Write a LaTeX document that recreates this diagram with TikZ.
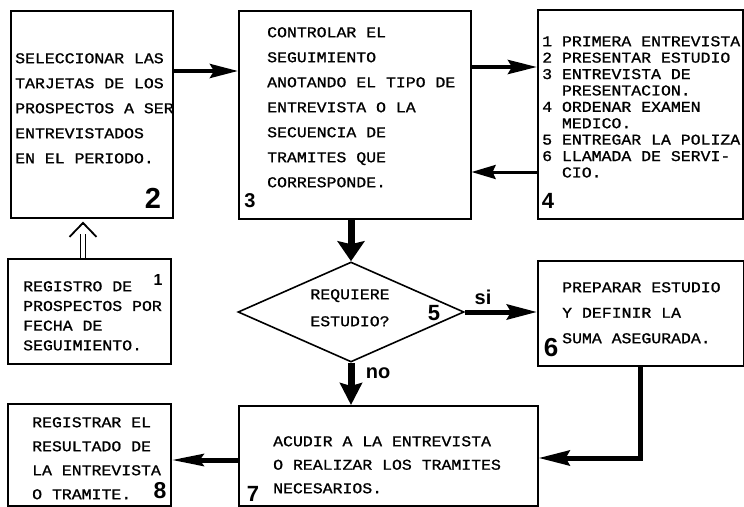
\documentclass[tikz,border=0pt]{standalone}
\usepackage{fontspec}
\usetikzlibrary{arrows.meta,shapes.geometric}
\newfontfamily\tw[FakeStretch=1.1,FakeBold=1]{Liberation Mono}
\newfontfamily\numfont{Liberation Sans}

\tikzset{
  box/.style={draw, line width=1.6pt, rectangle, inner sep=0pt, anchor=north west},
  txt/.style={font=\tw\fontsize{15}{#1}\selectfont, align=left, anchor=north west, inner sep=0pt},
  num/.style={font=\numfont\bfseries\fontsize{#1}{#1}\selectfont, inner sep=0pt, anchor=base},
  flowarrow/.style={line width=#1, line cap=butt},
}

\begin{document}
\begin{tikzpicture}[x=1pt,y=-1pt]
\useasboundingbox (0,0) rectangle (744,506);

% boxes
\node[box, minimum width=162pt, minimum height=207pt] (b2) at (10,10) {};
\node[box, minimum width=232pt, minimum height=208pt] (b3) at (238,10) {};
\node[box, minimum width=205pt, minimum height=209pt] (b4) at (537,9) {};
\node[box, minimum width=163pt, minimum height=105pt] (b1) at (7,258) {};
\node[diamond, draw, line width=1.6pt, minimum width=226pt, minimum height=100pt, inner sep=0pt] (d5) at (351,312) {};
\node[box, minimum width=206pt, minimum height=105pt] (b6) at (537,260) {};
\node[box, minimum width=299pt, minimum height=100pt] (b7) at (238,405) {};
\node[box, minimum width=163pt, minimum height=102pt] (b8) at (7,403) {};

% texts
\node[txt=25pt] (t2) at (15,53) {SELECCIONAR LAS\\TARJETAS DE LOS\\PROSPECTOS A SER\\ENTREVISTADOS\\EN EL PERIODO.};
\node[txt=25pt] (t3) at (267,27) {CONTROLAR EL\\SEGUIMIENTO\\ANOTANDO EL TIPO DE\\ENTREVISTA O LA\\SECUENCIA DE\\TRAMITES QUE\\CORRESPONDE.};
\node[txt=16.4pt] (t4) at (542,36) {1 PRIMERA ENTREVISTA\\2 PRESENTAR ESTUDIO\\3 ENTREVISTA DE\\\phantom{3 }PRESENTACION.\\4 ORDENAR EXAMEN\\\phantom{4 }MEDICO.\\5 ENTREGAR LA POLIZA\\6 LLAMADA DE SERVI-\\\phantom{6 }CIO.};
\node[txt=19.7pt] (t1) at (23,281) {REGISTRO DE\\PROSPECTOS POR\\FECHA DE\\SEGUIMIENTO.};
\node[txt=27pt, align=center, anchor=north] (t5) at (350,289) {REQUIERE\\ESTUDIO?};
\node[txt=25.5pt] (t6) at (562,282) {PREPARAR ESTUDIO\\Y DEFINIR LA\\SUMA ASEGURADA.};
\node[txt=23.5pt] (t7) at (273,436) {ACUDIR A LA ENTREVISTA\\O REALIZAR LOS TRAMITES\\NECESARIOS.};
\node[txt=24pt] (t8) at (32,417) {REGISTRAR EL\\RESULTADO DE\\LA ENTREVISTA\\O TRAMITE.};

% step numbers
\node[num=29] (n2) at (153,208) {2};
\node[num=20] (n3) at (250,207) {3};
\node[num=22] (n4) at (548,208) {4};
\node[num=16] (n1) at (158,285) {1};
\node[num=22] (n5) at (434,320) {5};
\node[num=26] (n6) at (551,356) {6};
\node[num=22] (n7) at (253,501) {7};
\node[num=23] (n8) at (160,498) {8};
\node[num=20] (si) at (483,304) {si};
\node[num=20] (no) at (378,378) {no};

% connectors
\coordinate (h12) at (83,234);
\draw[double, double distance=4pt, line width=1.2pt, line cap=butt] (b1.north -| h12) -- (h12);
\draw[line width=1.8pt, -{Straight Barb[length=14pt,width=27pt]}] ([yshift=-5pt]b2.south -| h12) -- ([yshift=-3pt]b2.south -| h12);
\draw[flowarrow=4pt, -{Stealth[length=28pt,width=14pt,inset=4pt]}] (b2.east |- 0,71) -- (b3.west |- 0,71);
\draw[flowarrow=4pt, -{Stealth[length=29pt,width=14pt,inset=4pt]}] (b3.east |- 0,67) -- (b4.west |- 0,67);
\draw[flowarrow=3pt, -{Stealth[length=24pt,width=14pt,inset=3pt]}] (b4.west |- 0,172) -- (b3.east |- 0,172);
\draw[flowarrow=7pt, -{Stealth[length=20pt,width=27pt,inset=3pt]}] (b3.south -| d5.north) -- (d5.north);
\draw[flowarrow=5pt, -{Stealth[length=30pt,width=15pt,inset=4pt]}] (d5.east) -- (b6.west |- d5.east);
\draw[flowarrow=7pt, -{Stealth[length=22pt,width=22pt,inset=3pt]}] (d5.south) -- (b7.north -| d5.south);
\draw[flowarrow=5pt, line join=miter, -{Stealth[length=31pt,width=15pt,inset=4pt]}] (b6.south) |- (b7.east |- 0,458);
\draw[flowarrow=5pt, -{Stealth[length=32pt,width=12pt,inset=4pt]}] (b7.west |- 0,460) -- (b8.east |- 0,460);
\end{tikzpicture}
\end{document}
